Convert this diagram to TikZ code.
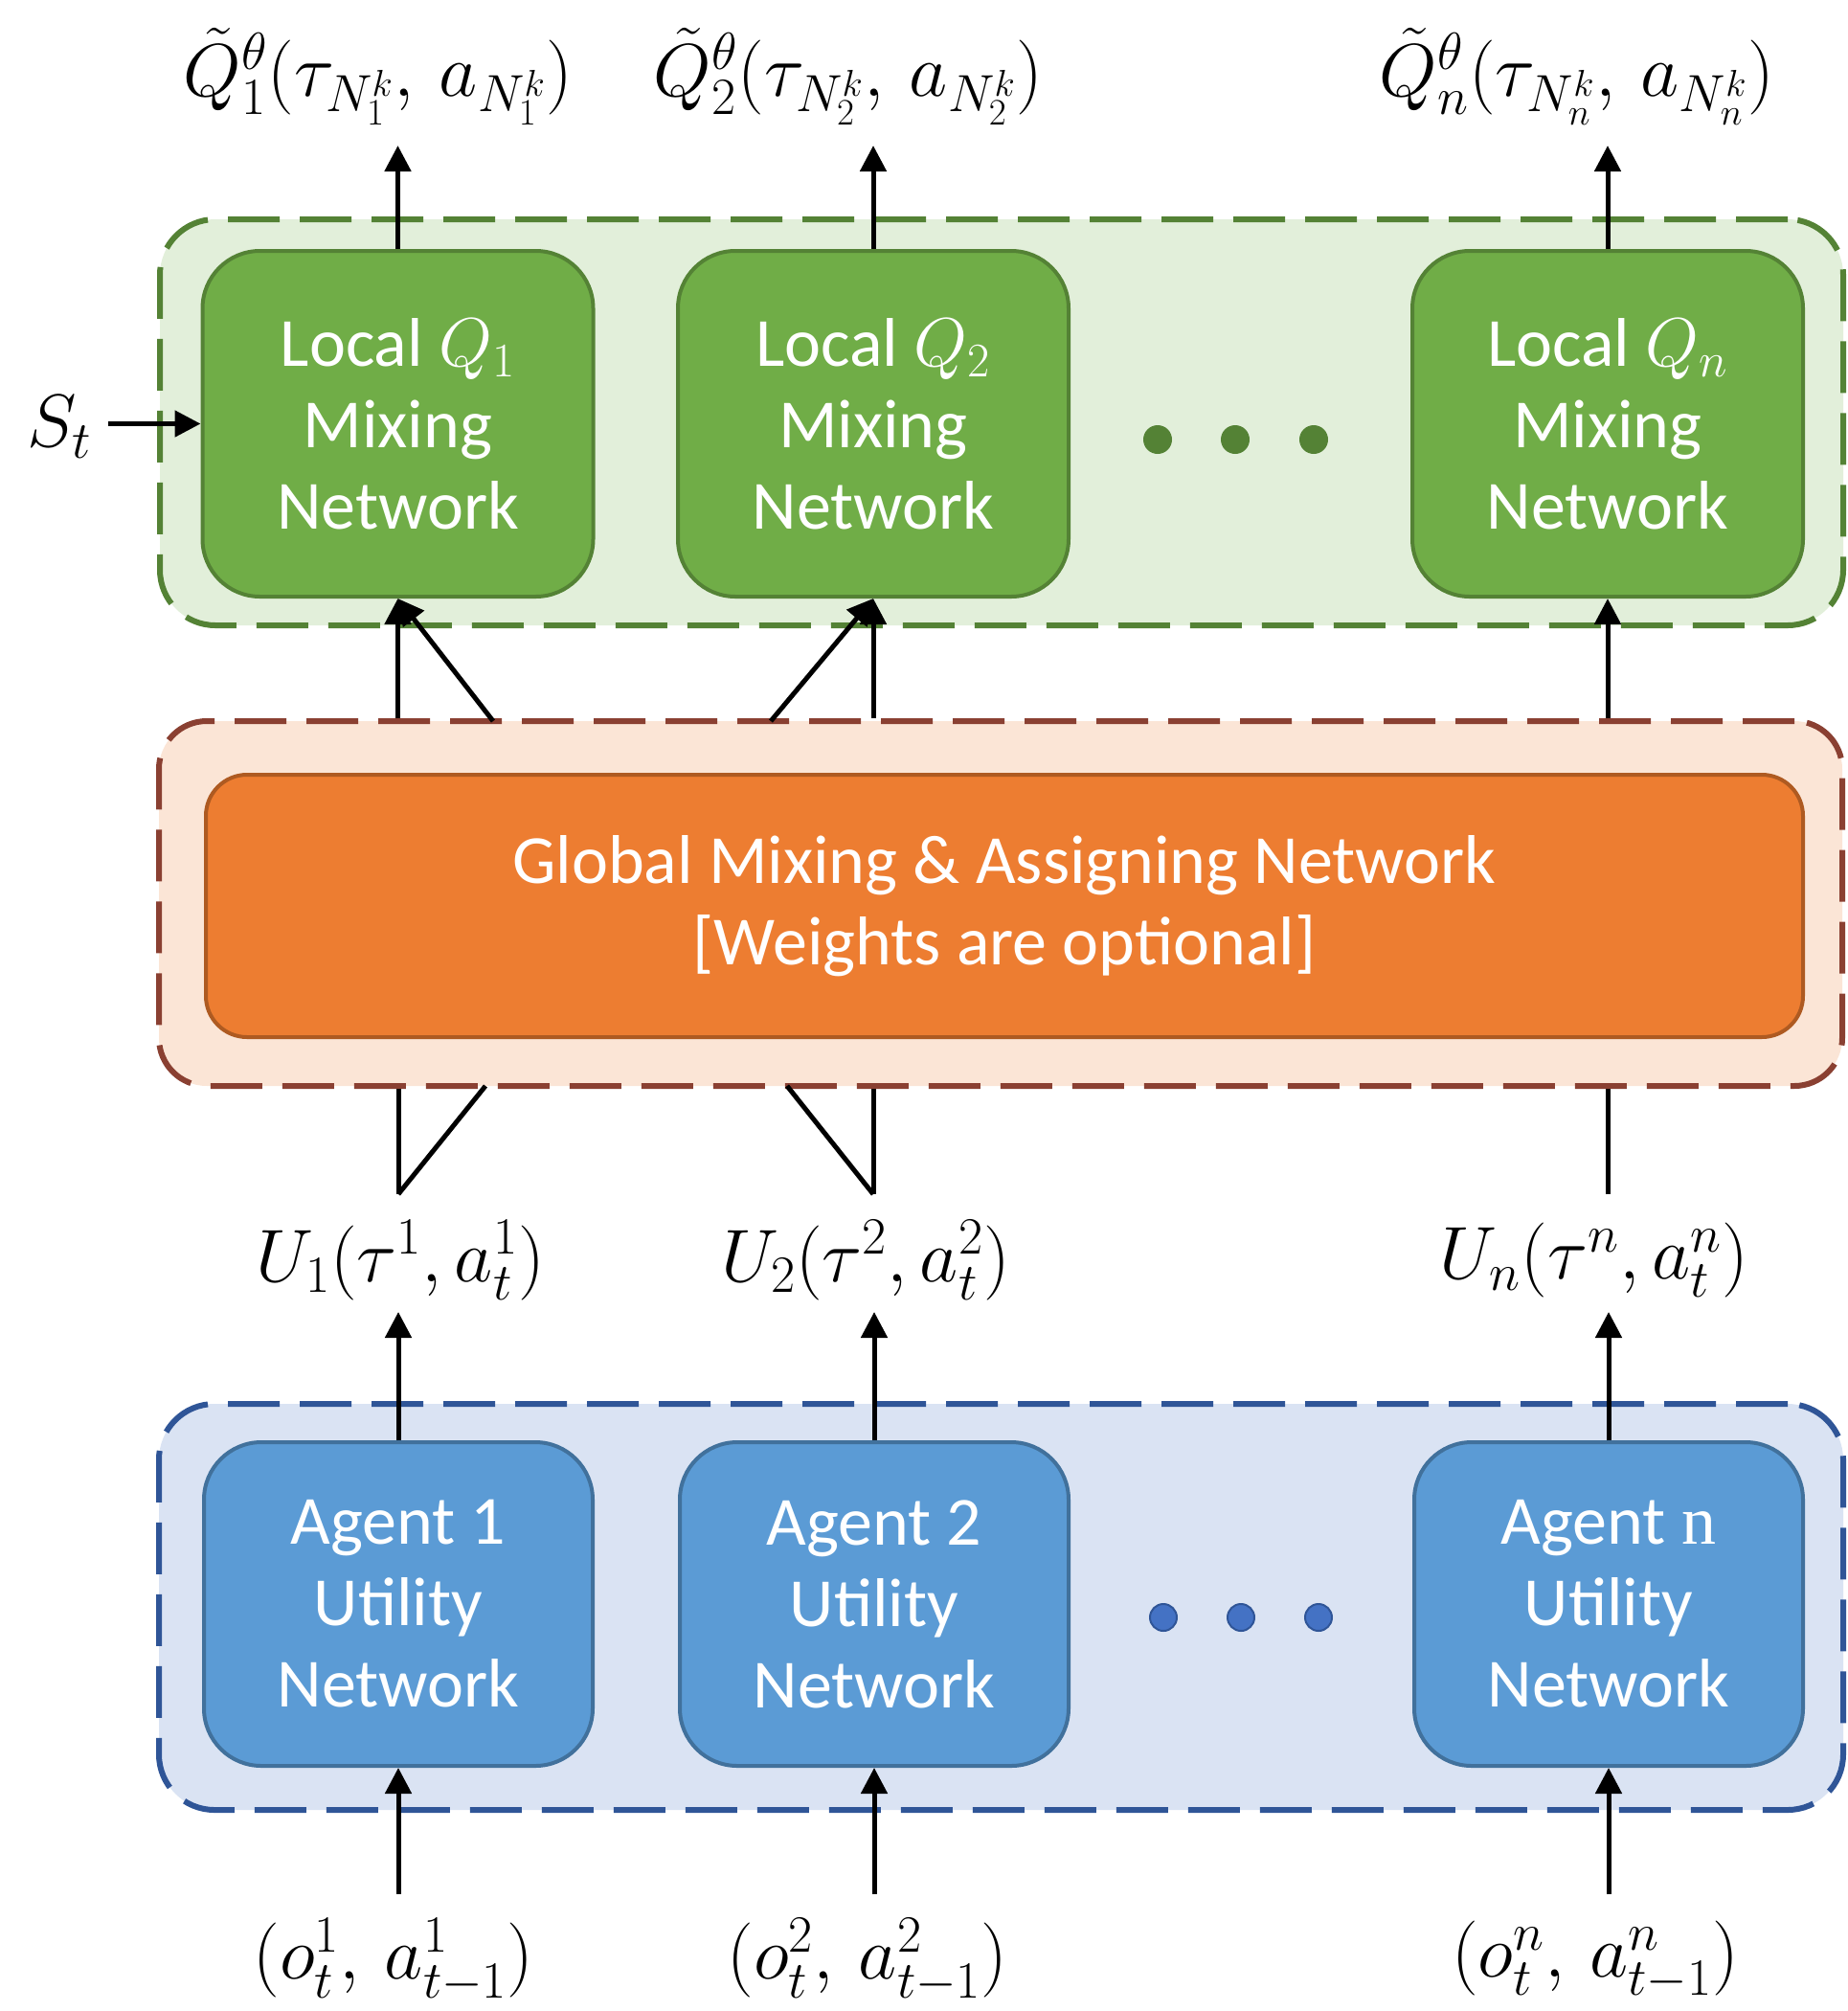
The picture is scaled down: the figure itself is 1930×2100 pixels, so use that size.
\RequirePackage{fix-cm}
\documentclass[tikz,border=0pt]{standalone}
\usepackage{fontspec}
\setmainfont{Carlito}
\newfontfamily\serifn{Liberation Serif}
\usetikzlibrary{arrows.meta}
\definecolor{glight}{HTML}{E2EFDA}
\definecolor{gdark}{HTML}{548235}
\definecolor{gfill}{HTML}{70AD47}
\definecolor{olight}{HTML}{FBE5D6}
\definecolor{obord}{HTML}{8A4032}
\definecolor{ofill}{HTML}{ED7D31}
\definecolor{oinner}{HTML}{AE5A21}
\definecolor{blight}{HTML}{DAE3F3}
\definecolor{bbord}{HTML}{2F5597}
\definecolor{bfill}{HTML}{5B9BD5}
\definecolor{binner}{HTML}{41719C}
\definecolor{bdot}{HTML}{4472C4}
\begin{document}
\begin{tikzpicture}[x=0.5pt,y=-0.5pt,
  font=\fontsize{36}{42.5}\selectfont,
  outerbox/.style={line width=3pt, dash pattern=on 27pt off 10.5pt, inner sep=0pt},
  innerbox/.style={line width=2pt, inner sep=0pt, text=white, align=center},
  gouter/.style={outerbox, draw=gdark, fill=glight, rounded corners=29pt, minimum width=879pt, minimum height=212pt},
  oouterst/.style={outerbox, draw=obord, fill=olight, rounded corners=25pt, minimum width=879pt, minimum height=190.5pt},
  bouter/.style={outerbox, draw=bbord, fill=blight, rounded corners=29pt, minimum width=879.5pt, minimum height=212pt},
  qbox/.style={innerbox, draw=gdark, fill=gfill, rounded corners=30pt, minimum width=204pt, minimum height=180.5pt},
  abox/.style={innerbox, draw=binner, fill=bfill, rounded corners=30pt, minimum width=203pt, minimum height=169pt},
  gbox/.style={innerbox, draw=oinner, fill=ofill, rounded corners=21.5pt, minimum width=834pt, minimum height=137pt},
  arr/.style={line width=2.5pt, -{Triangle[length=13.5pt,width=13.5pt]}},
  ln/.style={line width=2.5pt},
  lbl/.style={inner sep=0pt, anchor=center, font=\fontsize{39}{46}\selectfont},
  gdotst/.style={circle, fill=gdark, minimum size=15pt, inner sep=0pt},
  bdotst/.style={circle, fill=bdot, draw=bbord, line width=1pt, minimum size=14pt, inner sep=0pt}
]
\useasboundingbox (0,0) rectangle (1930,2100);

% containers
\node[gouter] (gout) at (1046,441) {};
\node[oouterst] (oout) at (1045,943.5) {};
\node[bouter] (bout) at (1045.5,1678) {};

% local Q boxes
\node[qbox] (q1) at (415.5,442.5) {Local $Q_1$\\Mixing\\Network};
\node[qbox] (q2) at (912,442.5) {Local $Q_2$\\Mixing\\Network};
\node[qbox] (qn) at (1679,442.5) {Local $Q_n$\\Mixing\\Network};

\node[gdotst] (gd1) at (1209,459) {};
\node[gdotst] (gd2) at (1290,459) {};
\node[gdotst] (gd3) at (1372,459) {};

% global box
\node[gbox] (glob) at (1049,946) {Global Mixing \& Assigning Network\\ {[}Weights are optional{]}};

% agent boxes
\node[abox] (a1) at (416,1675) {Agent 1\\Utility\\Network};
\node[abox] (a2) at (913,1675) {Agent 2\\Utility\\Network};
\node[abox] (an) at (1680,1675) {Agent {\serifn n}\\Utility\\Network};

\node[bdotst] (bd1) at (1215,1689) {};
\node[bdotst] (bd2) at (1296,1689) {};
\node[bdotst] (bd3) at (1377,1689) {};

% top labels
\node[lbl] (o1) at (395,80) {$\tilde{Q}^{\theta}_1(\tau_{N^k_1},\, a_{N^k_1})$};
\node[lbl] (o2) at (886,80) {$\tilde{Q}^{\theta}_2(\tau_{N^k_2},\, a_{N^k_2})$};
\node[lbl] (on) at (1647,80) {$\tilde{Q}^{\theta}_n(\tau_{N^k_n},\, a_{N^k_n})$};

\coordinate (t1) at (415.5,152);
\coordinate (t2) at (912,152);
\coordinate (tn) at (1679,152);
\draw[arr] (q1.north) -- (t1);
\draw[arr] (q2.north) -- (t2);
\draw[arr] (qn.north) -- (tn);

% S_t
\node[lbl] (st) at (62,446) {$S_t$};
\coordinate (sts) at (113,442.5);
\draw[arr] (sts) -- (q1.west);

% global to local
\coordinate (d1) at (515,753);
\coordinate (d2) at (805,753);
\draw[arr] (q1.south |- oout.north) -- (q1.south);
\draw[arr] (d1) -- (q1.south);
\draw[arr] (q2.south |- oout.north) -- (q2.south);
\draw[arr] (d2) -- (q2.south);
\draw[arr] (qn.south |- oout.north) -- (qn.south);

% U labels
\node[lbl] (u1) at (418,1316) {$U_1(\tau^1, a^1_t)$};
\node[lbl] (u2) at (904,1316) {$U_2(\tau^2, a^2_t)$};
\node[lbl] (un) at (1665,1316) {$U_n(\tau^n, a^n_t)$};

\coordinate (u1t) at (416,1247);
\coordinate (u2t) at (912,1247);
\coordinate (unt) at (1679,1247);
\coordinate (e1) at (507,1134);
\coordinate (e2) at (822,1134);
\draw[ln] (u1t) -- (u1t |- oout.south);
\draw[ln] (u1t) -- (e1);
\draw[ln] (u2t) -- (u2t |- oout.south);
\draw[ln] (u2t) -- (e2);
\draw[ln] (unt) -- (unt |- oout.south);

% agent to U
\coordinate (ua1) at (416,1370);
\coordinate (ua2) at (913,1370);
\coordinate (uan) at (1680,1370);
\draw[arr] (a1.north) -- (ua1);
\draw[arr] (a2.north) -- (ua2);
\draw[arr] (an.north) -- (uan);

% bottom inputs
\node[lbl] (i1) at (411,2047) {$(o^1_t,\, a^1_{t-1})$};
\node[lbl] (i2) at (906,2047) {$(o^2_t,\, a^2_{t-1})$};
\node[lbl] (in) at (1666,2047) {$(o^n_t,\, a^n_{t-1})$};
\coordinate (b1) at (416,1978);
\coordinate (b2) at (913,1978);
\coordinate (bn) at (1680,1978);
\draw[arr] (b1) -- (a1.south);
\draw[arr] (b2) -- (a2.south);
\draw[arr] (bn) -- (an.south);
\end{tikzpicture}
\end{document}
